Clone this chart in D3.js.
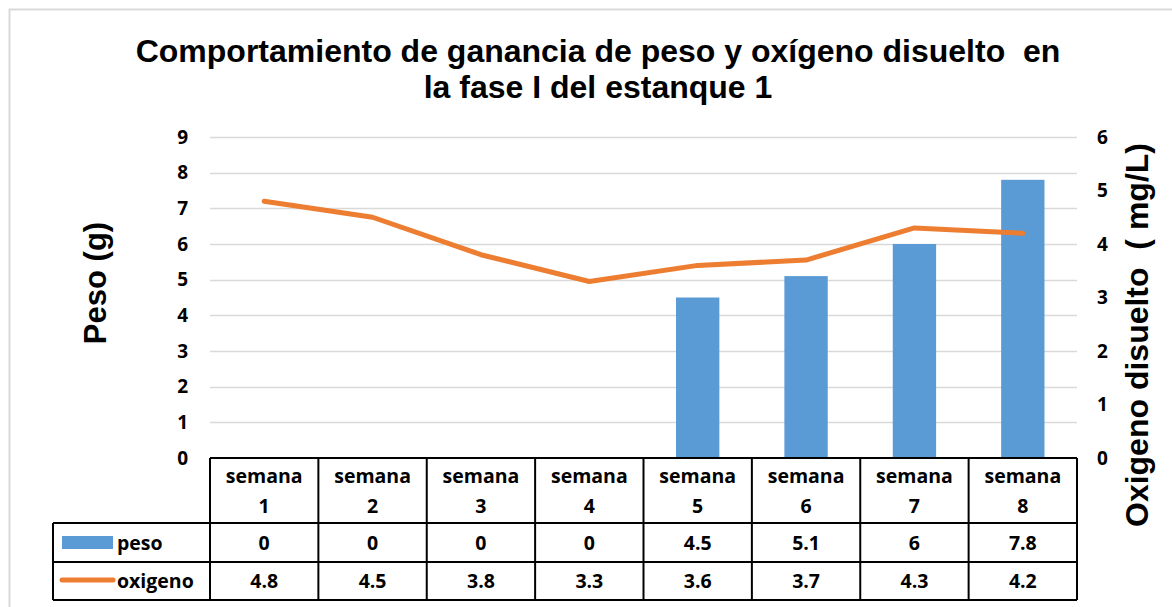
<!DOCTYPE html>
<html>
<head>
<meta charset="utf-8">
<script src="https://cdn.jsdelivr.net/npm/d3@7"></script>
<style>
  body { margin: 0; background: #fff; }
  svg { display: block; }
</style>
</head>
<body>
<svg id="chart" width="1172" height="607"></svg>
<script>
// data
var semanas = ['semana 1', 'semana 2', 'semana 3', 'semana 4', 'semana 5', 'semana 6', 'semana 7', 'semana 8'];
var peso = [0, 0, 0, 0, 4.5, 5.1, 6, 7.8];
var oxigeno = [4.8, 4.5, 3.8, 3.3, 3.6, 3.7, 4.3, 4.2];
var pesoTicks = [0, 1, 2, 3, 4, 5, 6, 7, 8, 9];
var oxiTicks = [0, 1, 2, 3, 4, 5, 6];

var width = 1172;
var height = 607;

var plotLeft = 210;
var plotRight = 1077;
var plotTop = 137;
var plotBottom = 458;

var blue = '#5B9BD5';
var orange = '#ED7D31';
var tableFont = '"Open Sans", Lato, sans-serif';
var titleFont = '"Liberation Sans", Arial, sans-serif';
var tableSize = 19.5;
var tickSize = 19;

var svg = d3.select('#chart');

// outer chart border
svg.append('rect')
    .attr('x', 9.5)
    .attr('y', 9.5)
    .attr('width', width + 20)
    .attr('height', height + 20)
    .attr('fill', 'none')
    .attr('stroke', '#d9d9d9')
    .attr('stroke-width', 2);

var x = d3.scaleBand()
    .domain(semanas)
    .range([plotLeft, plotRight]);

var yLeft = d3.scaleLinear()
    .domain([0, 9])
    .range([plotBottom, plotTop]);

var yRight = d3.scaleLinear()
    .domain([0, 6])
    .range([plotBottom, plotTop]);

// title
var title = svg.append('text')
    .attr('text-anchor', 'middle')
    .attr('font-family', titleFont)
    .attr('font-weight', 'bold')
    .attr('font-size', 32)
    .attr('xml:space', 'preserve');
title.append('tspan').attr('x', 598).attr('y', 62).text('Comportamiento de ganancia de peso y oxígeno disuelto  en');
title.append('tspan').attr('x', 598).attr('y', 98).text('la fase I del estanque 1');

// gridlines
svg.append('g')
    .selectAll('line')
    .data(pesoTicks.filter(function(d){ return d > 0; }))
    .enter()
    .append('line')
    .attr('x1', plotLeft)
    .attr('x2', plotRight)
    .attr('y1', function(d){ return Math.round(yLeft(d)) + 0.5; })
    .attr('y2', function(d){ return Math.round(yLeft(d)) + 0.5; })
    .attr('stroke', '#d9d9d9')
    .attr('stroke-width', 1.5);

// left axis
var leftAxis = svg.append('g')
    .attr('transform', 'translate(' + plotLeft + ',0)')
    .call(d3.axisLeft(yLeft).tickValues(pesoTicks).tickSize(0).tickPadding(22).tickFormat(d3.format('d')));
leftAxis.select('.domain').remove();
leftAxis.selectAll('text')
    .attr('font-family', tableFont)
    .attr('font-weight', 'bold')
    .attr('font-size', tickSize)
    .attr('fill', '#000');

// right axis
var rightAxis = svg.append('g')
    .attr('transform', 'translate(' + plotRight + ',0)')
    .call(d3.axisRight(yRight).tickValues(oxiTicks).tickSize(0).tickPadding(20).tickFormat(d3.format('d')));
rightAxis.select('.domain').remove();
rightAxis.selectAll('text')
    .attr('font-family', tableFont)
    .attr('font-weight', 'bold')
    .attr('font-size', tickSize)
    .attr('fill', '#000');

// axis titles
svg.append('text')
    .attr('transform', 'translate(106,283) rotate(-90)')
    .attr('text-anchor', 'middle')
    .attr('font-family', titleFont)
    .attr('font-weight', 'bold')
    .attr('font-size', 31)
    .text('Peso (g)');

svg.append('text')
    .attr('transform', 'translate(1148,335) rotate(-90)')
    .attr('text-anchor', 'middle')
    .attr('font-family', titleFont)
    .attr('font-weight', 'bold')
    .attr('font-size', 32)
    .attr('xml:space', 'preserve')
    .text('Oxigeno disuelto  ( mg/L)');

// bars
var barW = x.bandwidth() * 0.4;
svg.append('g')
    .selectAll('rect')
    .data(peso)
    .enter()
    .append('rect')
    .attr('x', function(d, i){ return x(semanas[i]) + (x.bandwidth() - barW) / 2; })
    .attr('y', function(d){ return yLeft(d); })
    .attr('width', barW)
    .attr('height', function(d){ return plotBottom - yLeft(d); })
    .attr('fill', blue);

// oxygen line
var line = d3.line()
    .x(function(d, i){ return x(semanas[i]) + x.bandwidth() / 2; })
    .y(function(d){ return yRight(d); });

svg.append('path')
    .datum(oxigeno)
    .attr('d', line)
    .attr('fill', 'none')
    .attr('stroke', orange)
    .attr('stroke-width', 5)
    .attr('stroke-linecap', 'round')
    .attr('stroke-linejoin', 'round');

// data table
var rowHead = [plotBottom, 523];
var rowPeso = [523, 562];
var rowOxi = [562, 600];
var tableLeft = 53;

var table = svg.append('g')
    .attr('stroke', '#000')
    .attr('stroke-width', 2)
    .attr('fill', 'none');

// horizontal rules
table.append('line').attr('x1', plotLeft).attr('x2', plotRight).attr('y1', rowHead[0]).attr('y2', rowHead[0]);
[rowPeso[0], rowOxi[0], rowOxi[1]].forEach(function(yy){
    table.append('line').attr('x1', tableLeft).attr('x2', plotRight).attr('y1', yy).attr('y2', yy);
});
table.append('line').attr('x1', tableLeft).attr('x2', tableLeft).attr('y1', rowPeso[0]).attr('y2', rowOxi[1]);

// vertical rules between categories
var cuts = semanas.map(function(s){ return x(s); }).concat([plotRight]);
table.selectAll('line.v')
    .data(cuts)
    .enter()
    .append('line')
    .attr('class', 'v')
    .attr('x1', function(d){ return d; })
    .attr('x2', function(d){ return d; })
    .attr('y1', rowHead[0])
    .attr('y2', rowOxi[1]);

// header labels and values
var head = svg.append('g')
    .attr('font-family', tableFont)
    .attr('font-weight', 'bold')
    .attr('font-size', tableSize)
    .attr('text-anchor', 'middle');

semanas.forEach(function(s){
    var parts = s.split(' ');
    var cx = x(s) + x.bandwidth() / 2;
    head.append('text').attr('x', cx).attr('y', 483).text(parts[0]);
    head.append('text').attr('x', cx).attr('y', 513).text(parts[1]);
});

head.selectAll('text.peso')
    .data(peso)
    .enter()
    .append('text')
    .attr('class', 'peso')
    .attr('x', function(d, i){ return x(semanas[i]) + x.bandwidth() / 2; })
    .attr('y', 550)
    .text(function(d){ return d; });

head.selectAll('text.oxi')
    .data(oxigeno)
    .enter()
    .append('text')
    .attr('class', 'oxi')
    .attr('x', function(d, i){ return x(semanas[i]) + x.bandwidth() / 2; })
    .attr('y', 588)
    .text(function(d){ return d; });

// row legends
svg.append('rect')
    .attr('x', 62).attr('y', 536).attr('width', 51).attr('height', 13)
    .attr('fill', blue);
svg.append('text')
    .attr('x', 117).attr('y', 550)
    .attr('font-family', tableFont).attr('font-weight', 'bold').attr('font-size', tableSize)
    .text('peso');

svg.append('line')
    .attr('x1', 62).attr('x2', 113).attr('y1', 580).attr('y2', 580)
    .attr('stroke', orange).attr('stroke-width', 5).attr('stroke-linecap', 'round');
svg.append('text')
    .attr('x', 117).attr('y', 588)
    .attr('font-family', tableFont).attr('font-weight', 'bold').attr('font-size', tableSize)
    .text('oxigeno');
</script>
</body>
</html>
